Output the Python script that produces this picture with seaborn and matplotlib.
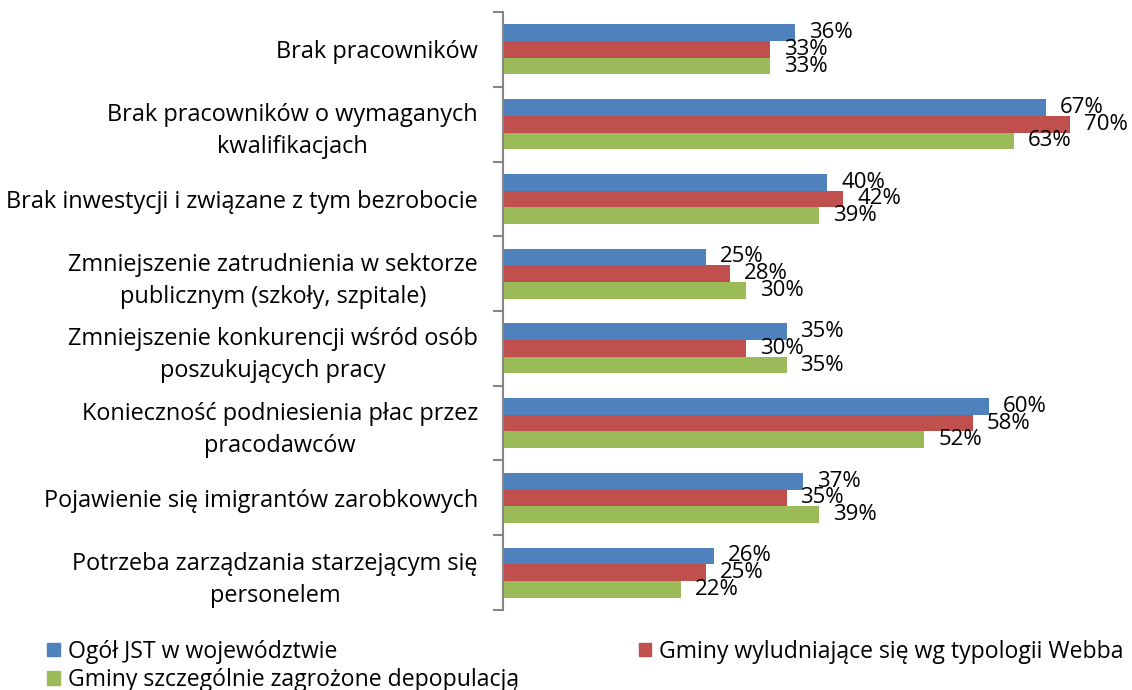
import matplotlib
matplotlib.use("Agg")
import matplotlib.pyplot as plt
import seaborn as sns
import pandas as pd

categories = [
    "Brak pracowników",
    "Brak pracowników o wymaganych\nkwalifikacjach",
    "Brak inwestycji i związane z tym bezrobocie",
    "Zmniejszenie zatrudnienia w sektorze\npublicznym (szkoły, szpitale)",
    "Zmniejszenie konkurencji wśród osób\nposzukujących pracy",
    "Konieczność podniesienia płac przez\npracodawców",
    "Pojawienie się imigrantów zarobkowych",
    "Potrzeba zarządzania starzejącym się\npersonelem",
]
series_names = [
    "Ogół JST w województwie",
    "Gminy wyludniające się wg typologii Webba",
    "Gminy szczególnie zagrożone depopulacją",
]
ogol = [0.36, 0.67, 0.40, 0.25, 0.35, 0.60, 0.37, 0.26]
wyludniajace = [0.33, 0.70, 0.42, 0.28, 0.30, 0.58, 0.35, 0.25]
zagrozone = [0.33, 0.63, 0.39, 0.30, 0.35, 0.52, 0.39, 0.22]
colors = ["#4F81BD", "#C0504D", "#9BBB59"]

rows = []
for name, vals in zip(series_names, [ogol, wyludniajace, zagrozone]):
    for cat, v in zip(categories, vals):
        rows.append({"kategoria": cat, "seria": name, "wartosc": v})
df = pd.DataFrame(rows)

sns.set_theme(style="white")
plt.rcParams["font.family"] = ["Open Sans", "DejaVu Sans"]

fig = plt.figure(figsize=(11.32, 6.9), dpi=100)
ax = fig.add_axes([0.4443, 0.116, 0.537, 0.8665])

sns.barplot(data=df, y="kategoria", x="wartosc", hue="seria", orient="h",
            palette=colors, width=0.67, saturation=1, ax=ax, legend=False,
            edgecolor="none")

ax.set_xlim(0, 0.75)
ax.set_xlabel("")
ax.set_ylabel("")
ax.set_xticks([])
for s in ["top", "right", "bottom"]:
    ax.spines[s].set_visible(False)
ax.spines["left"].set_color("#868686")
ax.spines["left"].set_linewidth(1.5)

# category boundary ticks on the left axis
ax.set_yticks([i - 0.5 for i in range(len(categories) + 1)], minor=True)
ax.tick_params(axis="y", which="minor", length=7, width=1.5, color="#868686", left=True)
ax.tick_params(axis="y", which="major", length=0, pad=18, labelsize=16.9)
ax.set_ylim(len(categories) - 0.5, -0.5)
for lbl in ax.get_yticklabels():
    lbl.set_multialignment("center")
    lbl.set_linespacing(1.45)
    lbl.set_color("black")

for cont in ax.containers:
    ax.bar_label(cont, labels=[f"{v * 100:.0f}%" for v in cont.datavalues],
                 padding=10, fontsize=16, color="black")

# legend filled row by row: reorder for column-major filling
handles = [plt.Rectangle((0, 0), 1, 1, color=c) for c in colors]
order = [0, 2, 1]
fig.legend([handles[i] for i in order], [series_names[i] for i in order],
           loc="upper left", bbox_to_anchor=(0.0415, 0.073),
           ncol=2, frameon=False, fontsize=16.6, handlelength=0.55, handleheight=0.55,
           handletextpad=0.35, columnspacing=5.2, borderaxespad=0, borderpad=0,
           labelspacing=0.2, labelcolor="black")

fig.savefig("out.png", dpi=100, facecolor="white")
